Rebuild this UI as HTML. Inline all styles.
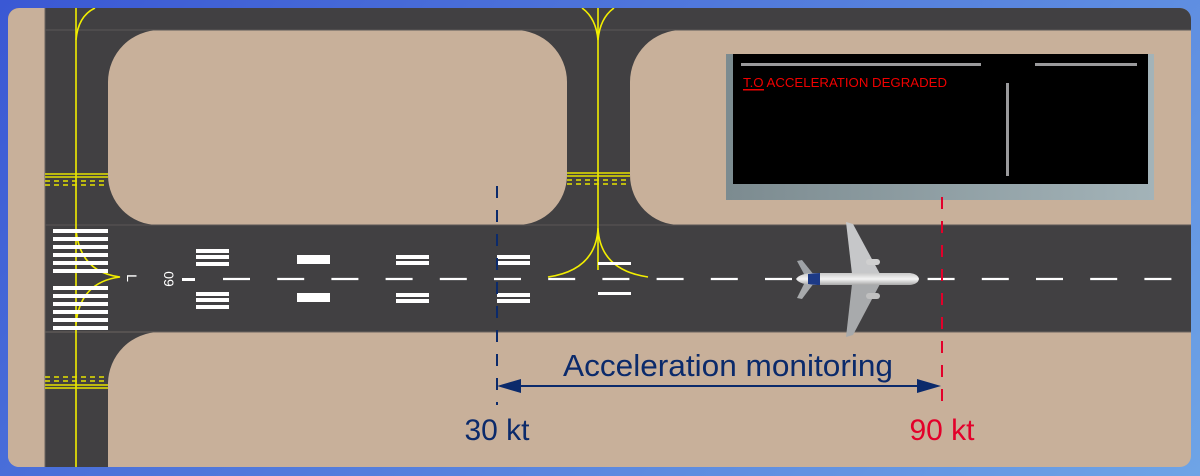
<!DOCTYPE html>
<html><head><meta charset="utf-8"><style>
html,body{margin:0;padding:0;width:1200px;height:476px;overflow:hidden;background:linear-gradient(135deg,#3a58d4,#6ea4e6);}
svg{position:absolute;left:0;top:0}
</style></head><body>
<svg width="1200" height="476" viewBox="0 0 1200 476" xmlns="http://www.w3.org/2000/svg">
<defs>
<clipPath id="pc"><rect x="8" y="8" width="1183" height="459" rx="11"/></clipPath>
<linearGradient id="scr" x1="0" y1="0" x2="1" y2="0"><stop offset="0" stop-color="#7c8b90"/><stop offset="1" stop-color="#a3b3b8"/></linearGradient>
<linearGradient id="fus" x1="0" y1="0" x2="0" y2="1"><stop offset="0" stop-color="#c8c8c8"/><stop offset="0.5" stop-color="#f4f4f4"/><stop offset="1" stop-color="#a8a8a8"/></linearGradient>
</defs>
<g clip-path="url(#pc)">
<rect x="8" y="8" width="1183" height="459" fill="#c8b09a"/>
<rect x="8" y="8" width="1183" height="22" fill="#414042"/>
<rect x="45" y="8" width="63" height="459" fill="#414042"/>
<rect x="567" y="8" width="63" height="217" fill="#414042"/>
<rect x="45" y="225" width="1146" height="107" fill="#414042"/>
<path d="M108 30 H160 A52 52 0 0 0 108 82Z" fill="#414042"/>
<path d="M108 225 V175 A50 50 0 0 0 158 225Z" fill="#414042"/>
<path d="M108 332 V384 A52 52 0 0 1 160 332Z" fill="#414042"/>
<path d="M567 225 V175 A50 50 0 0 1 517 225Z" fill="#414042"/>
<path d="M567 30 V82 A52 52 0 0 0 515 30Z" fill="#414042"/>
<path d="M630 30 V82 A52 52 0 0 1 682 30Z" fill="#414042"/>
<path d="M630 225 V175 A50 50 0 0 0 680 225Z" fill="#414042"/>
<path d="M8 8 H45 V467 H8Z" fill="#c8b09a"/>
<line x1="45" y1="8" x2="45" y2="467" stroke="#6b6560" stroke-width="1"/>
<line x1="45" y1="30" x2="1191" y2="30" stroke="#5a5858" stroke-width="1"/>
<line x1="45" y1="225" x2="1191" y2="225" stroke="#5a5656" stroke-width="1"/>
<line x1="45" y1="332" x2="1191" y2="332" stroke="#6b6560" stroke-width="1"/>
<g stroke="#f2ee00" fill="none" stroke-width="1.6">
<line x1="76" y1="8" x2="76" y2="467"/>
<path d="M76 40 Q78 16 95 8"/>
<path d="M76 230 Q80 272 120 277 Q80 282 76 324"/>
<line x1="598" y1="8" x2="598" y2="270"/>
<path d="M598 40 Q596 18 582 8 M598 40 Q600 18 614 8"/>
<path d="M598 228 Q596 270 548 277 M598 228 Q600 270 648 277"/>
</g>
<g stroke="#e6e200" stroke-width="1.5">
<line x1="45" y1="174" x2="108" y2="174"/><line x1="45" y1="177" x2="108" y2="177"/>
<line x1="45" y1="181" x2="108" y2="181" stroke-dasharray="5 4"/><line x1="45" y1="185" x2="108" y2="185" stroke-dasharray="5 4"/>
<line x1="45" y1="388" x2="108" y2="388"/><line x1="45" y1="385" x2="108" y2="385"/>
<line x1="45" y1="381" x2="108" y2="381" stroke-dasharray="5 4"/><line x1="45" y1="377" x2="108" y2="377" stroke-dasharray="5 4"/>
<line x1="567" y1="173" x2="630" y2="173"/><line x1="567" y1="176" x2="630" y2="176"/>
<line x1="567" y1="180" x2="630" y2="180" stroke-dasharray="5 4"/><line x1="567" y1="184" x2="630" y2="184" stroke-dasharray="5 4"/>
</g>
<g fill="#fff">
<rect x="53" y="229" width="55" height="4"/><rect x="53" y="237" width="55" height="4"/><rect x="53" y="245" width="55" height="4"/><rect x="53" y="253" width="55" height="4"/><rect x="53" y="261" width="55" height="4"/><rect x="53" y="269" width="55" height="4"/>
<rect x="53" y="286" width="55" height="4"/><rect x="53" y="294" width="55" height="4"/><rect x="53" y="302" width="55" height="4"/><rect x="53" y="310" width="55" height="4"/><rect x="53" y="318" width="55" height="4"/><rect x="53" y="326" width="55" height="4"/>
<rect x="196" y="249" width="33" height="4"/><rect x="196" y="255" width="33" height="4"/><rect x="196" y="262" width="33" height="4"/>
<rect x="196" y="292" width="33" height="4"/><rect x="196" y="298" width="33" height="4"/><rect x="196" y="305" width="33" height="4"/>
<rect x="297" y="255" width="33" height="9"/><rect x="297" y="293" width="33" height="9"/>
<rect x="396" y="255" width="33" height="4"/><rect x="396" y="261" width="33" height="4"/><rect x="396" y="293" width="33" height="4"/><rect x="396" y="299" width="33" height="4"/>
<rect x="497" y="255" width="33" height="4"/><rect x="497" y="261" width="33" height="4"/><rect x="497" y="293" width="33" height="4"/><rect x="497" y="299" width="33" height="4"/>
<rect x="598" y="262" width="33" height="3"/><rect x="598" y="292" width="33" height="3"/>
<rect x="182" y="278" width="13" height="3"/>
</g>
<text transform="translate(131,278) rotate(90)" font-family="Liberation Sans, sans-serif" font-size="14" fill="#fff" text-anchor="middle" dy="4">L</text>
<text transform="translate(168,279) rotate(90)" font-family="Liberation Sans, sans-serif" font-size="14" fill="#fff" text-anchor="middle" dy="4">09</text>
<line x1="223" y1="279" x2="1180" y2="279" stroke="#fff" stroke-width="2.2" stroke-dasharray="27 27.2"/>
<g>
<polygon points="852,274 846,222 853,224 880,274" fill="#c6c7c9"/>
<polygon points="852,284 846,337 853,335 880,284" fill="#a8aaac"/>
<rect x="866" y="259" width="14" height="6" rx="3" fill="#d0d0d0"/>
<rect x="866" y="293" width="14" height="6" rx="3" fill="#c0c0c0"/>
<polygon points="804,274 797,261 802,260 814,275" fill="#9ea2a6"/>
<polygon points="804,284 797,298 802,299 814,283" fill="#a8aaac"/>
<path d="M796 279 Q800 273 815 273 H910 Q918 274 919 279 Q918 284 910 285 H815 Q800 285 796 279Z" fill="url(#fus)"/>
<path d="M808 274 Q815 273 820 273 V285 Q815 285 808 284Z" fill="#1d3a86"/>
</g>
<rect x="726" y="54" width="428" height="146" fill="url(#scr)"/>
<rect x="733" y="54" width="415" height="130" fill="#000"/>
<rect x="741" y="63" width="240" height="3" fill="#9a9a9c"/>
<rect x="1035" y="63" width="102" height="3" fill="#9a9a9c"/>
<rect x="1006" y="83" width="3" height="93" fill="#9a9a9c"/>
<text x="743" y="87" font-family="Liberation Sans, sans-serif" font-size="13" fill="#f00000" textLength="204" lengthAdjust="spacingAndGlyphs">T.O ACCELERATION DEGRADED</text>
<rect x="743" y="89" width="21" height="1.5" fill="#f00000"/>
<line x1="497" y1="186" x2="497" y2="405" stroke="#0b2a6b" stroke-width="2" stroke-dasharray="12 12"/>
<line x1="942" y1="197" x2="942" y2="412" stroke="#e3002a" stroke-width="2" stroke-dasharray="12 12"/>
<line x1="512" y1="386" x2="926" y2="386" stroke="#0b2a6b" stroke-width="2"/>
<polygon points="497,386 521,379 521,393" fill="#0b2a6b"/>
<polygon points="941,386 917,379 917,393" fill="#0b2a6b"/>
<text x="728" y="376" font-family="Liberation Sans, sans-serif" font-size="31" fill="#0b2a6b" text-anchor="middle" textLength="330" lengthAdjust="spacingAndGlyphs">Acceleration monitoring</text>
<text x="497" y="440" font-family="Liberation Sans, sans-serif" font-size="30" fill="#0b2a6b" text-anchor="middle">30 kt</text>
<text x="942" y="440" font-family="Liberation Sans, sans-serif" font-size="30" fill="#e3002a" text-anchor="middle">90 kt</text>
</g>
</svg>
</body></html>
